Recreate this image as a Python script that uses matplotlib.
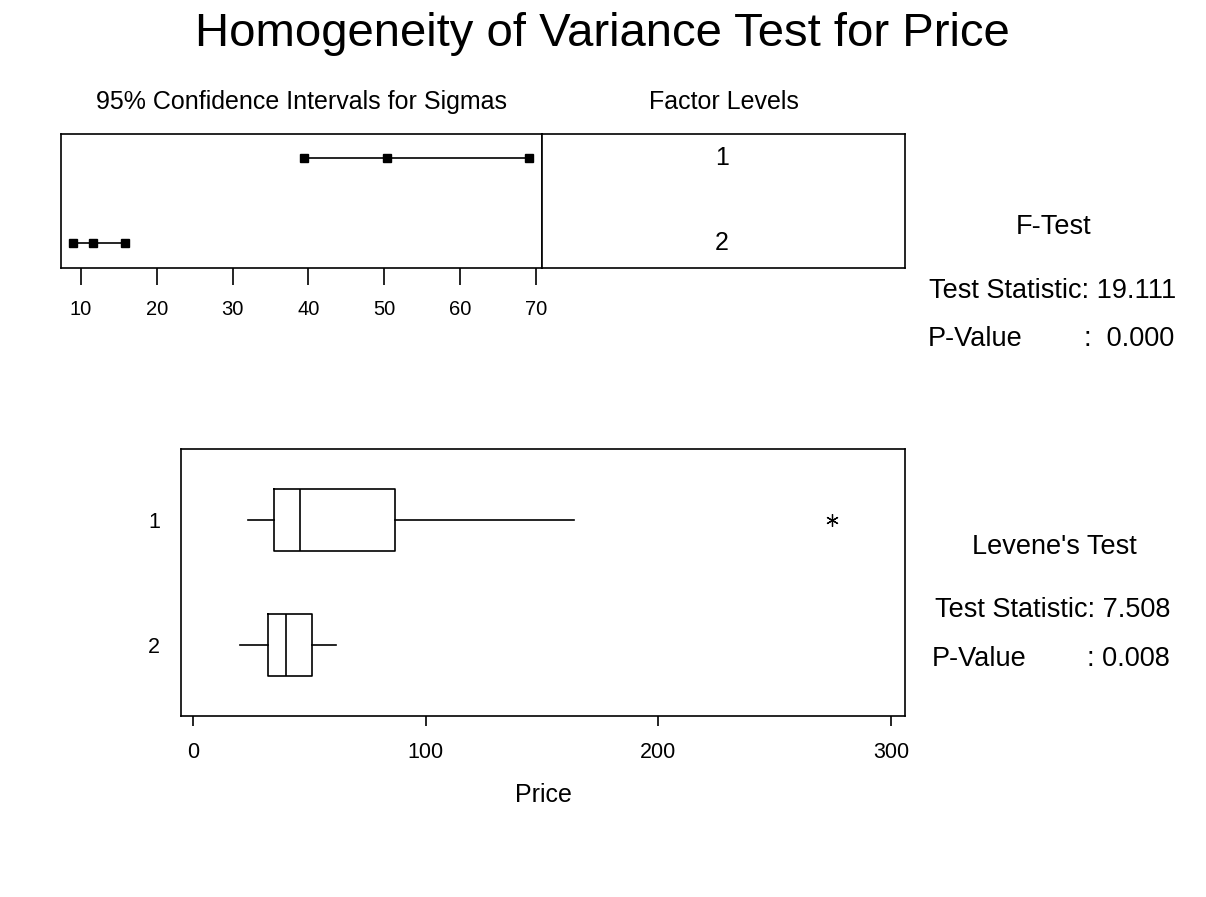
import matplotlib
matplotlib.use("Agg")
import matplotlib.pyplot as plt

plt.rcParams['font.family'] = ['Liberation Sans', 'DejaVu Sans']

# ---- data ----
levels = ['1', '2']
ci_lower = [39.4, 9.0]
ci_sigma = [50.3, 11.6]
ci_upper = [69.1, 15.8]
ci_ticks = [10, 20, 30, 40, 50, 60, 70]

box_whislo = [23.5, 20.3]
box_q1 = [34.7, 32.0]
box_med = [45.8, 40.0]
box_q3 = [86.8, 51.1]
box_whishi = [163.6, 61.4]
box_outliers = [[274.7], []]
price_ticks = [0, 100, 200, 300]

title = "Homogeneity of Variance Test for Price"
f_test = ["F-Test", "Test Statistic: 19.111", "P-Value", ":  0.000"]
levene = ["Levene's Test", "Test Statistic: 7.508", "P-Value", ": 0.008"]

W, H = 1206, 897
fig = plt.figure(figsize=(W / 100, H / 100), dpi=100)

def rect(x0, y0, x1, y1):
    return [x0 / W, 1 - y1 / H, (x1 - x0) / W, (y1 - y0) / H]

lw = 1.2

# title
fig.text(602 / W, 1 - 34 / H, title, ha='center', va='center', fontsize=34)

# ---- top-left CI panel ----
ax1 = fig.add_axes(rect(61, 134, 542, 268))
pos = list(range(1, len(levels) + 1))
for p, lo, s, hi in zip(pos, ci_lower, ci_sigma, ci_upper):
    ax1.plot([lo, hi], [p, p], color='black', lw=lw)
    ax1.plot([lo, s, hi], [p, p, p], 's', color='black', ms=5.5)
ax1.set_xlim(7.36, 70.8)
ax1.set_ylim(2.29, 0.715)
ax1.set_yticks([])
ax1.set_xticks(ci_ticks)
ax1.tick_params(axis='x', length=12, width=lw, labelsize=14.5, pad=11, direction='out')
for s in ax1.spines.values():
    s.set_linewidth(lw)
ax1.set_title("95% Confidence Intervals for Sigmas", fontsize=18, pad=18)

# ---- top-right factor levels panel ----
ax2 = fig.add_axes(rect(542, 134, 905, 268))
ax2.set_xlim(0, 1)
ax2.set_ylim(2.29, 0.715)
ax2.set_xticks([])
ax2.set_yticks([])
for p, lab in zip(pos, levels):
    ax2.text(0.495, p, lab, ha='center', va='center', fontsize=18)
for s in ax2.spines.values():
    s.set_linewidth(lw)
ax2.set_title("Factor Levels", fontsize=18, pad=18)

# ---- bottom boxplot ----
ax3 = fig.add_axes(rect(181, 449, 905, 716))
stats = []
for i in range(len(levels)):
    stats.append(dict(whislo=box_whislo[i], q1=box_q1[i], med=box_med[i],
                      q3=box_q3[i], whishi=box_whishi[i], fliers=box_outliers[i]))
ax3.bxp(stats, positions=pos, vert=False, widths=0.5, showcaps=False,
        boxprops=dict(color='black', lw=lw),
        medianprops=dict(color='black', lw=lw),
        whiskerprops=dict(color='black', lw=lw),
        flierprops=dict(marker=(6, 2, 0), markeredgecolor='black',
                        markersize=9, markeredgewidth=0.9))
ax3.set_xlim(-5.2, 306)
ax3.set_ylim(2.57, 0.43)
ax3.set_yticks(pos)
ax3.set_yticklabels(levels)
ax3.set_xticks(price_ticks)
ax3.tick_params(axis='x', length=7, width=lw, labelsize=15.5, pad=12)
ax3.tick_params(axis='y', length=0, labelsize=15.5, pad=15)
for s in ax3.spines.values():
    s.set_linewidth(lw)
ax3.set_xlabel("Price", fontsize=18, labelpad=14)

# ---- right-hand test text ----
fs = 19.5
fig.text(1054 / W, 1 - 227 / H, f_test[0], ha='center', va='center', fontsize=fs)
fig.text(1053 / W, 1 - 291 / H, f_test[1], ha='center', va='center', fontsize=fs)
fig.text(928 / W, 1 - 339 / H, f_test[2], ha='left', va='center', fontsize=fs)
fig.text(1084 / W, 1 - 339 / H, f_test[3], ha='left', va='center', fontsize=fs)

fig.text(1054 / W, 1 - 547 / H, levene[0], ha='center', va='center', fontsize=fs)
fig.text(1053 / W, 1 - 610 / H, levene[1], ha='center', va='center', fontsize=fs)
fig.text(932 / W, 1 - 659 / H, levene[2], ha='left', va='center', fontsize=fs)
fig.text(1087 / W, 1 - 659 / H, levene[3], ha='left', va='center', fontsize=fs)

fig.savefig("out.png", dpi=100, facecolor='white')
